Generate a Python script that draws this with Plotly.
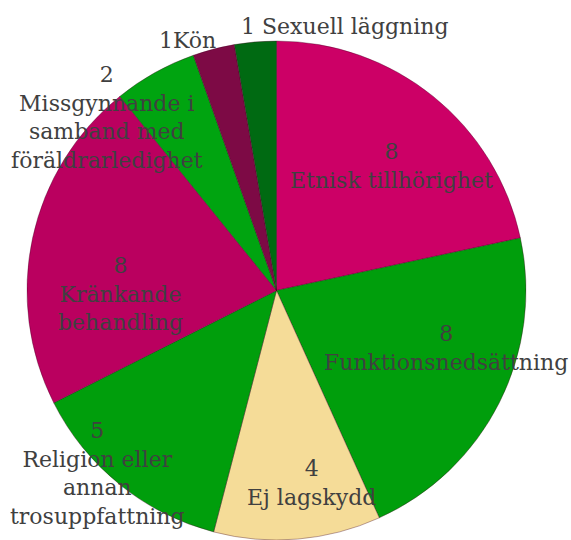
import plotly.graph_objects as go

categories = ["Etnisk tillhörighet", "Funktionsnedsättning", "Ej lagskydd",
              "Religion eller annan trosuppfattning", "Kränkande behandling",
              "Missgynnande i samband med föräldrarledighet", "Kön", "Sexuell läggning"]
values = [8, 8, 4, 5, 8, 2, 1, 1]
label_text = ["Etnisk tillhörighet", "Funktionsnedsättning", "Ej lagskydd",
              "Religion eller<br>annan<br>trosuppfattning", "Kränkande<br>behandling",
              "Missgynnande i<br>samband med<br>föräldrarledighet", "Kön", "Sexuell läggning"]
label_sep = ["<br>", "<br>", "<br>", "<br>", "<br>", "<br>", "", " "]

colors = ["#CC0066", "#009E0C", "#F5DC98", "#009E0C", "#BA005F", "#00A410", "#7D0A45", "#006A12"]

# label block centres in pixels (layout)
label_px = [(391, 166), (446, 348), (311, 483), (97, 473), (120, 294),
            (107, 117), (187, 40), (345, 27)]

W, H = 571, 540
ml, mr, mt, mb = 27, 45, 41, 0
pw, ph = W - ml - mr, H - mt - mb

fig = go.Figure(go.Pie(
    labels=categories, values=values, sort=False, direction="clockwise",
    rotation=0, textinfo="none", hoverinfo="label+value",
    marker=dict(colors=colors, line=dict(color="rgba(60,0,30,0.35)", width=1)),
    showlegend=False,
))

ann = []
for v, t, s, (px, py) in zip(values, label_text, label_sep, label_px):
    ann.append(dict(
        x=(px - ml) / pw, y=1 - (py - mt) / ph, xref="paper", yref="paper",
        text=f"{v}{s}{t}", showarrow=False, xanchor="center", yanchor="middle",
        align="center", font=dict(family="DejaVu Serif", size=22, color="#404040"),
    ))

fig.update_layout(
    width=W, height=H, margin=dict(l=ml, r=mr, t=mt, b=mb),
    paper_bgcolor="white", plot_bgcolor="white", annotations=ann,
)
fig.write_html("out.html", config={"displayModeBar": False},
               post_script="document.body.style.margin='0';")
